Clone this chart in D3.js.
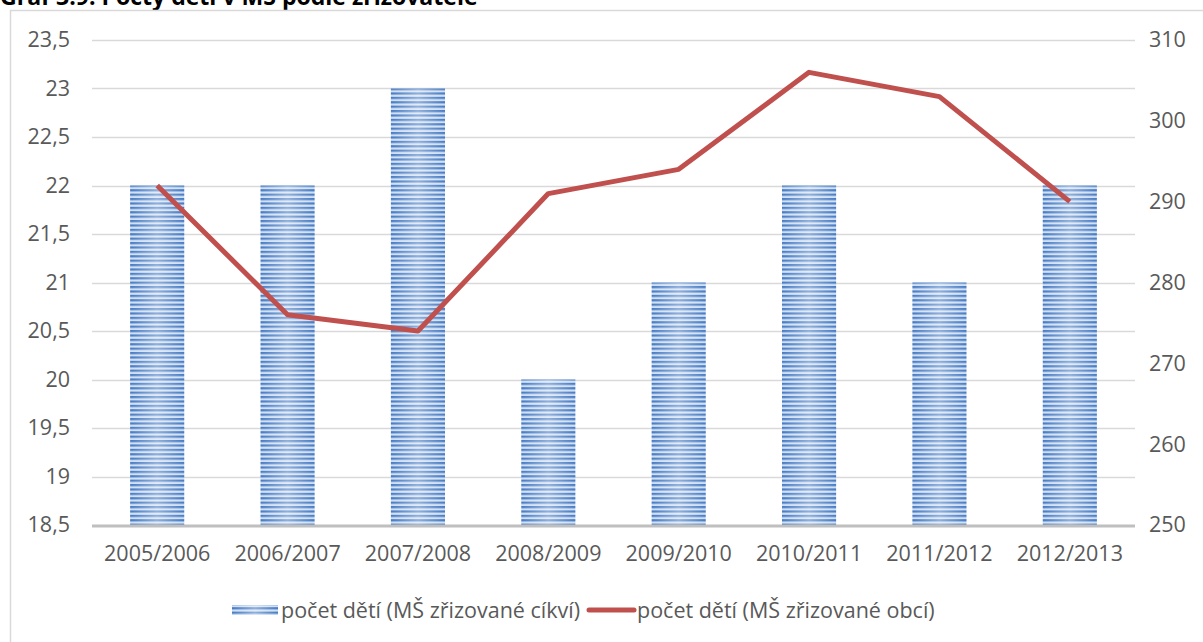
<!DOCTYPE html>
<html><head><meta charset="utf-8">
<script src="https://cdn.jsdelivr.net/npm/d3@7"></script>
<style>body{margin:0;background:#fff;overflow:hidden}svg{display:block}</style>
</head><body>
<svg id="c" width="1203" height="642"></svg>
<script>
const categories = ["2005/2006","2006/2007","2007/2008","2008/2009","2009/2010","2010/2011","2011/2012","2012/2013"];
const churchValues = [22,22,23,20,21,22,21,22];
const municipalValues = [292,276,274,291,294,306,303,290];
const leftTicks = [18.5,19,19.5,20,20.5,21,21.5,22,22.5,23,23.5];
const rightTicks = [250,260,270,280,290,300,310];
const titleText = "Graf 3.9: Počty dětí v MŠ podle zřizovatele";
const legendLabels = ["počet dětí (MŠ zřizované cíkví)","počet dětí (MŠ zřizované obcí)"];

const svg = d3.select("#c");
const font = "'Open Sans', Lato, sans-serif";
const fs = 21.5;
const txt = "#595959";
const defs = svg.append("defs");
const pat = defs.append("pattern").attr("id","stripes").attr("patternUnits","userSpaceOnUse")
  .attr("width",8).attr("height",4.4);
pat.append("rect").attr("width",8).attr("height",4.4).attr("fill","#cfdef2");
pat.append("rect").attr("y",0).attr("width",8).attr("height",2.2).attr("fill","#467bc4");
const grad = defs.append("linearGradient").attr("id","shine").attr("x1","0").attr("x2","1").attr("y1","0").attr("y2","0");
grad.append("stop").attr("offset","0").attr("stop-color","#fff").attr("stop-opacity",0);
grad.append("stop").attr("offset","0.5").attr("stop-color","#fff").attr("stop-opacity",0.4);
grad.append("stop").attr("offset","1").attr("stop-color","#fff").attr("stop-opacity",0);

// title + frame
const title = svg.append("text").attr("x",0).attr("y",5).attr("font-family",font).attr("font-weight","bold")
  .attr("font-size",20).attr("fill","#000").text(titleText);
const tw = title.node().getComputedTextLength();
title.attr("font-size", 20 * 478 / tw);
svg.append("rect").attr("x",10.5).attr("y",10.5).attr("width",1300).attr("height",700)
  .attr("fill","none").attr("stroke","#d9d9d9").attr("stroke-width",1.5);

const x0 = 92, x1 = 1135, yTop = 40, yBot = 525;
const x = d3.scaleBand().domain(categories).range([x0,x1]).paddingInner(0.585).paddingOuter(0.2925);
const yL = d3.scaleLinear().domain([18.5,23.5]).range([yBot,yTop]);
const yR = d3.scaleLinear().domain([250,310]).range([yBot,yTop]);

// gridlines
svg.append("g").selectAll("line").data(leftTicks.slice(1)).join("line")
  .attr("x1",x0).attr("x2",x1).attr("y1",d=>Math.round(yL(d))+0.5).attr("y2",d=>Math.round(yL(d))+0.5)
  .attr("stroke","#d9d9d9").attr("stroke-width",1.5);

// left axis
const la = svg.append("g").attr("transform",`translate(${x0},0)`)
  .call(d3.axisLeft(yL).tickValues(leftTicks).tickSize(0).tickPadding(22).tickFormat(d=>String(d).replace(".",",")));
la.select(".domain").remove();
la.selectAll("text").attr("font-family",font).attr("font-size",fs).attr("fill",txt);

// right axis
const ra = svg.append("g").attr("transform",`translate(${x1},0)`)
  .call(d3.axisRight(yR).tickValues(rightTicks).tickSize(0).tickPadding(14));
ra.select(".domain").remove();
ra.selectAll("text").attr("font-family",font).attr("font-size",fs).attr("fill",txt);

// bars
const bw = x.bandwidth();
const bars = svg.append("g");
bars.selectAll("rect.b").data(categories).join("rect").attr("class","b")
  .attr("x",d=>x(d)).attr("width",bw)
  .attr("y",(d,i)=>yL(churchValues[i])).attr("height",(d,i)=>yBot-yL(churchValues[i]))
  .attr("fill","url(#stripes)");
bars.selectAll("rect.s").data(categories).join("rect").attr("class","s")
  .attr("x",d=>x(d)).attr("width",bw)
  .attr("y",(d,i)=>yL(churchValues[i])).attr("height",(d,i)=>yBot-yL(churchValues[i]))
  .attr("fill","url(#shine)");

// bottom axis
svg.append("line").attr("x1",x0).attr("x2",x1).attr("y1",yBot+1).attr("y2",yBot+1)
  .attr("stroke","#bfbfbf").attr("stroke-width",3);
const ba = svg.append("g").attr("transform",`translate(0,${yBot})`)
  .call(d3.axisBottom(x).tickSize(0).tickPadding(21));
ba.select(".domain").remove();
ba.selectAll("text").attr("font-family",font).attr("font-size",fs).attr("fill",txt);

// line
const line = d3.line().x((d,i)=>x(categories[i])+bw/2).y(d=>yR(d));
svg.append("path").datum(municipalValues).attr("d",line).attr("fill","none")
  .attr("stroke","#c0504d").attr("stroke-width",5).attr("stroke-linejoin","round");

// legend
const ly = 610;
const lg = svg.append("g");
lg.append("rect").attr("x",232).attr("y",ly-5).attr("width",46).attr("height",10).attr("fill","url(#stripes)");
lg.append("rect").attr("x",232).attr("y",ly-5).attr("width",46).attr("height",10).attr("fill","url(#shine)");
lg.append("text").attr("x",281).attr("y",ly).attr("dy","0.35em").attr("font-family",font).attr("font-size",fs)
  .attr("fill",txt).text(legendLabels[0]);
lg.append("line").attr("x1",589).attr("x2",634).attr("y1",ly).attr("y2",ly)
  .attr("stroke","#c0504d").attr("stroke-width",5).attr("stroke-linecap","round");
lg.append("text").attr("x",637).attr("y",ly).attr("dy","0.35em").attr("font-family",font).attr("font-size",fs)
  .attr("fill",txt).text(legendLabels[1]);
</script>
</body></html>
